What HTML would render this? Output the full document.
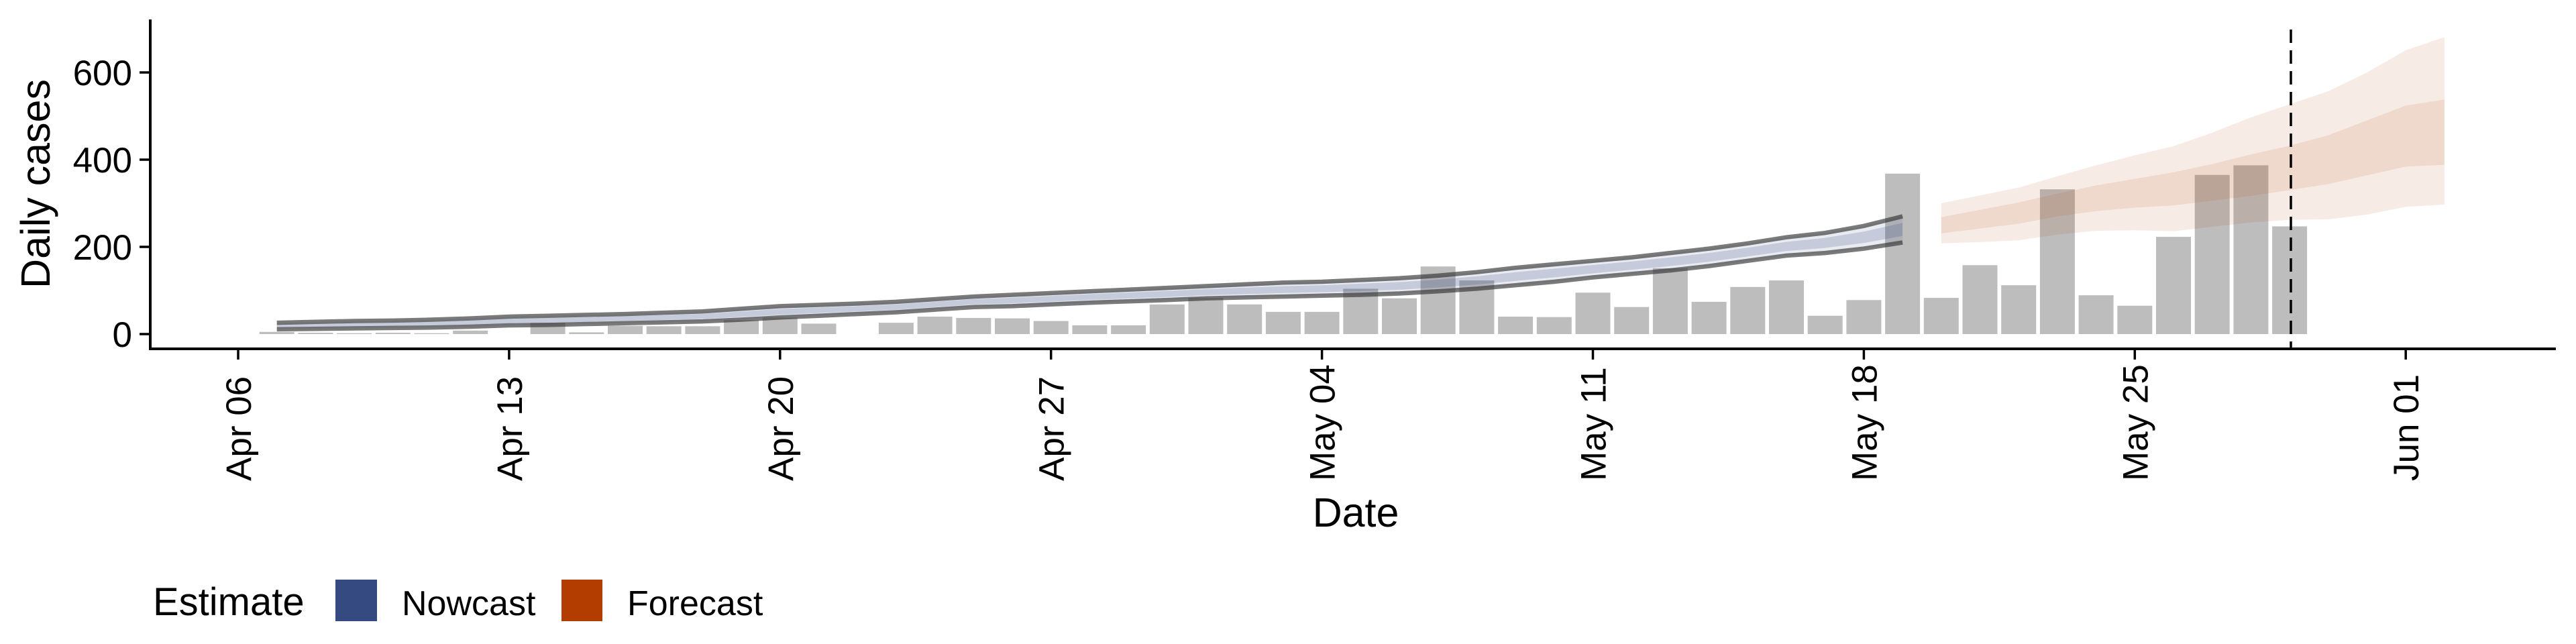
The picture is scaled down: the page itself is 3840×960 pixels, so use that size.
<!DOCTYPE html>
<html><head><meta charset="utf-8">
<style>
html,body{margin:0;padding:0;background:#fff;}
svg{display:block;font-family:"Liberation Sans",sans-serif;}
</style></head>
<body>
<svg id="chart" width="3840" height="960" viewBox="0 0 3840 960" xmlns="http://www.w3.org/2000/svg">
<g id="bars"></g>
<g id="nowcast"></g>
<g id="forecast"></g>
<line x1="3415" y1="44" x2="3415" y2="520" stroke="#000" stroke-width="3.5" stroke-dasharray="20 11"/>
<g id="axes"></g>
<text transform="translate(74,274) rotate(-90)" text-anchor="middle" font-size="61">Daily cases</text>
<text x="2021" y="785" text-anchor="middle" font-size="61">Date</text>
<g>
<text x="228" y="917" font-size="58">Estimate</text>
<rect x="500" y="864" width="62" height="62" fill="#354a80"/>
<text x="599" y="917" font-size="52">Nowcast</text>
<rect x="837" y="864" width="61" height="62" fill="#b33c00"/>
<text x="935" y="917" font-size="52">Forecast</text>
</g>
</svg>
<script>
// Observed daily cases, Apr 07 (day 1) to May 29 (day 53)
const caseValues = [5,3,2,3,2,8,0,26,4,19,18,18,32,38,24,0,26,40,37,36,30,20,20,68,83,68,51,51,104,82,155,123,40,39,95,62,151,74,108,123,42,78,368,83,158,112,332,89,65,223,365,387,247];
// Nowcast 90% interval, day 1..43
const nowUpper = [26,28,30,31,33,36,40,42,44,46,49,52,58,64,67,70,74,80,86,90,94,98,102,106,110,114,118,120,124,128,134,142,152,160,168,176,186,196,208,222,232,248,270];
const nowLower = [11,12,13,14,15,17,20,21,23,25,27,29,33,38,42,46,50,56,62,64,68,72,75,78,82,84,86,88,90,93,98,104,112,120,130,138,146,156,168,180,186,196,210];
// Forecast intervals, day 44..57
const fcOuterUp = [300,318,336,362,387,410,431,462,497,527,557,600,651,681];
const fcInnerUp = [268,285,302,322,341,356,371,390,412,432,456,490,524,538];
const fcInnerLow = [231,242,253,270,282,290,295,306,317,330,344,364,384,388];
const fcOuterLow = [208,211,215,228,237,238,236,246,256,262,263,274,292,297];
const yTicks = [0,200,400,600];
const xTickLabels = ["Apr 06","Apr 13","Apr 20","Apr 27","May 04","May 11","May 18","May 25","Jun 01"];

const NS="http://www.w3.org/2000/svg";
const X = d => 355 + 57.7*d;
const Y = v => 498 - v*0.65;
function mk(tag, attrs, parent){const e=document.createElementNS(NS,tag);for(const k in attrs)e.setAttribute(k,attrs[k]);parent.appendChild(e);return e;}

const bars=document.getElementById('bars');
caseValues.forEach((v,i)=>{
  const d=i+1;
  const r=mk('rect',{x:X(d)-26,y:Y(v),width:52,height:Math.max(0,Y(0)-Y(v)),fill:'#bdbdbd'},bars);
  
  
});

function band(upArr, lowArr, startDay, fill, op, parent, name){
  let p='';
  upArr.forEach((v,i)=>{p+=(i?'L':'M')+X(startDay+i)+','+Y(v);});
  for(let i=lowArr.length-1;i>=0;i--)p+='L'+X(startDay+i)+','+Y(lowArr[i]);
  const e=mk('path',{d:p+'Z',fill:fill,'fill-opacity':op},parent);
  
  
}
function line(arr,startDay,parent,name){
  let p='';arr.forEach((v,i)=>{p+=(i?'L':'M')+X(startDay+i)+','+Y(v);});
  const e=mk('path',{d:p,fill:'none',stroke:'#333','stroke-opacity':0.65,'stroke-width':6.5},parent);
  
  
}
const nc=document.getElementById('nowcast');
band(nowUpper,nowLower,1,'#354a80',0.11,nc,'nowcast-outer-band');
const inU=nowUpper.map((u,i)=>nowLower[i]+0.75*(u-nowLower[i]));
const inL=nowUpper.map((u,i)=>nowLower[i]+0.25*(u-nowLower[i]));
band(inU,inL,1,'#354a80',0.2,nc,'nowcast-inner-band');
line(nowUpper,1,nc,'nowcast-upper-line');
line(nowLower,1,nc,'nowcast-lower-line');
const fc=document.getElementById('forecast');
band(fcOuterUp,fcOuterLow,44,'#b33c00',0.1,fc,'forecast-outer-band');
band(fcInnerUp,fcInnerLow,44,'#b33c00',0.1,fc,'forecast-inner-band');

const ax=document.getElementById('axes');
const yl=mk('line',{x1:224,y1:29,x2:224,y2:522,stroke:'#000','stroke-width':4},ax);


const xl=mk('line',{x1:222,y1:520,x2:3810,y2:520,stroke:'#000','stroke-width':4},ax);


yTicks.forEach(v=>{
  const t=mk('line',{x1:208,y1:Y(v),x2:224,y2:Y(v),stroke:'#000','stroke-width':3.5},ax);
  
  
  const l=mk('text',{x:197,y:Y(v)+19,'text-anchor':'end','font-size':53},ax);
  l.textContent=v;
  
  
});
xTickLabels.forEach((s,i)=>{
  const x=X(i*7);
  const t=mk('line',{x1:x,y1:520,x2:x,y2:536,stroke:'#000','stroke-width':3.5},ax);
  
  
  const l=mk('text',{transform:`translate(${x+19},717) rotate(-90)`,'text-anchor':'start','font-size':53},ax);
  l.textContent=s;
  
  
});
</script>
</body></html>
